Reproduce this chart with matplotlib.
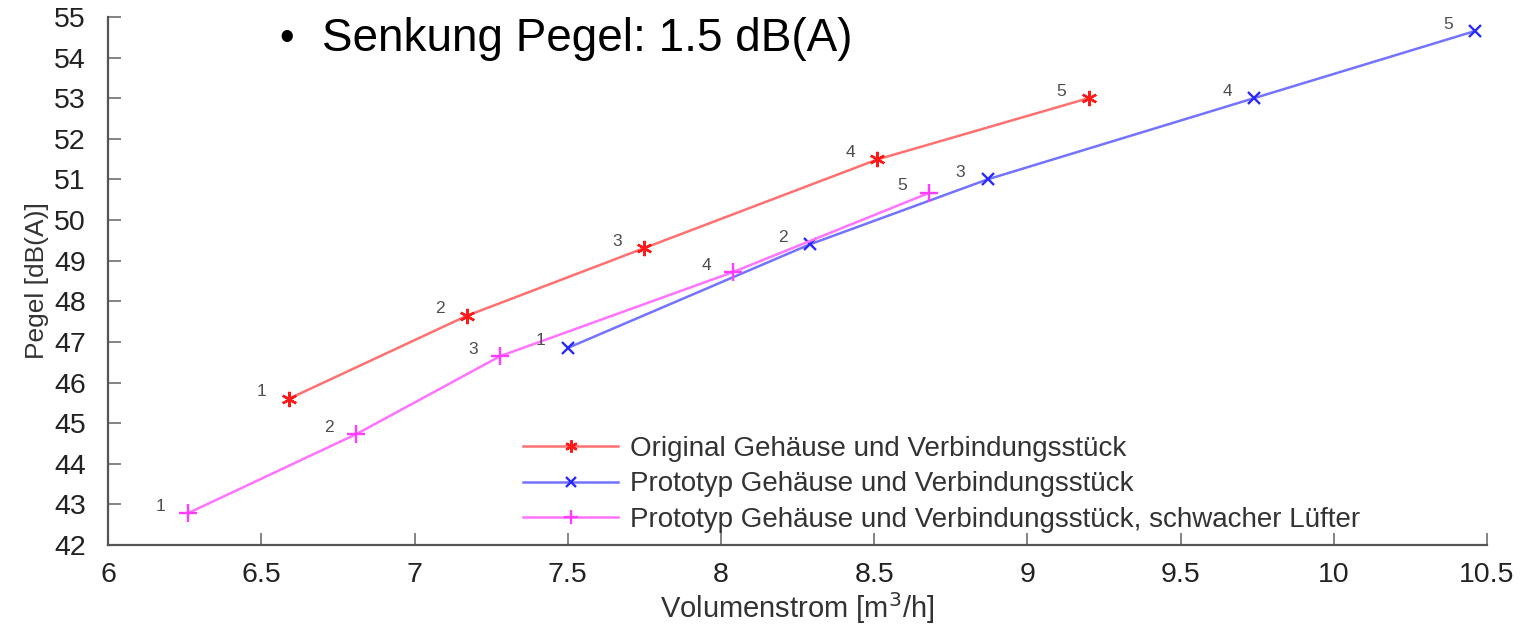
import matplotlib
matplotlib.use("Agg")
import matplotlib.pyplot as plt

plt.rcParams['font.family'] = ['Liberation Sans', 'DejaVu Sans']

x_original = [6.59, 7.17, 7.75, 8.51, 9.20]
y_original = [45.6, 47.64, 49.31, 51.49, 53.0]
x_prototyp = [7.50, 8.29, 8.87, 9.74, 10.46]
y_prototyp = [46.85, 49.4, 51.0, 53.0, 54.65]
x_schwach = [6.26, 6.81, 7.28, 8.04, 8.68]
y_schwach = [42.78, 44.73, 46.65, 48.72, 50.67]
point_labels = ["1", "2", "3", "4", "5"]

series_names = ["Original Gehäuse und Verbindungsstück",
                "Prototyp Gehäuse und Verbindungsstück",
                "Prototyp Gehäuse und Verbindungsstück, schwacher Lüfter"]
x_ticks = [6, 6.5, 7, 7.5, 8, 8.5, 9, 9.5, 10, 10.5]
x_ticklabels = ["6", "6.5", "7", "7.5", "8", "8.5", "9", "9.5", "10", "10.5"]
y_ticks = list(range(42, 56))

fig = plt.figure(figsize=(15.33, 6.26), dpi=100)
ax = fig.add_axes([0.0705, 0.1294, 0.8995, 0.8436])

series = [
    (x_original, y_original, "#ff7070", "#ff1a1a", (6, 2, 0), 11),
    (x_prototyp, y_prototyp, "#7373ff", "#2a2aff", "x", 9),
    (x_schwach, y_schwach, "#ff73ff", "#ff3cff", "+", 13),
]
for (xs, ys, lc, mc, mk, ms), name in zip(series, series_names):
    ax.plot(xs, ys, color=lc, lw=1.8, marker=mk, ms=ms, mec=mc, mfc=mc,
            mew=1.7, label=name)
    for xv, yv, t in zip(xs, ys, point_labels):
        ax.annotate(t, (xv, yv), xytext=(-27, 7), textcoords="offset pixels",
                    ha="center", va="center", fontsize=12.5, color="#4d4d4d")

ax.set_xlim(6, 10.5)
ax.set_ylim(42, 55)
ax.set_xticks(x_ticks)
ax.set_xticklabels(x_ticklabels)
ax.set_yticks(y_ticks)
ax.tick_params(direction="in", length=9, width=1.2, colors="#707070",
               labelsize=20.5, labelcolor="#222222")
ax.tick_params(axis="y", pad=16)
ax.tick_params(axis="x", pad=12)
for s in ["top", "right"]:
    ax.spines[s].set_visible(False)
for s in ["left", "bottom"]:
    ax.spines[s].set_color("#555555")
    ax.spines[s].set_linewidth(1.6)

ax.set_xlabel("Volumenstrom [m$^3$/h]", fontsize=21, color="#333333", labelpad=2)
ax.set_ylabel("Pegel [dB(A)]", fontsize=19, color="#333333", labelpad=4)

leg = ax.legend(loc="lower left", bbox_to_anchor=(0.283, -0.025), frameon=False,
                fontsize=20, handlelength=3.4, handletextpad=0.45,
                labelspacing=0.35, markerscale=0.8)
for t in leg.get_texts():
    t.set_color("#333333")

fig.text(0.187, 0.937, "•", fontsize=30, ha="center", va="center", color="black")
fig.text(0.210, 0.937, "Senkung Pegel: 1.5 dB(A)", fontsize=33, ha="left",
         va="center", color="black")

fig.savefig("out.png", dpi=100)
